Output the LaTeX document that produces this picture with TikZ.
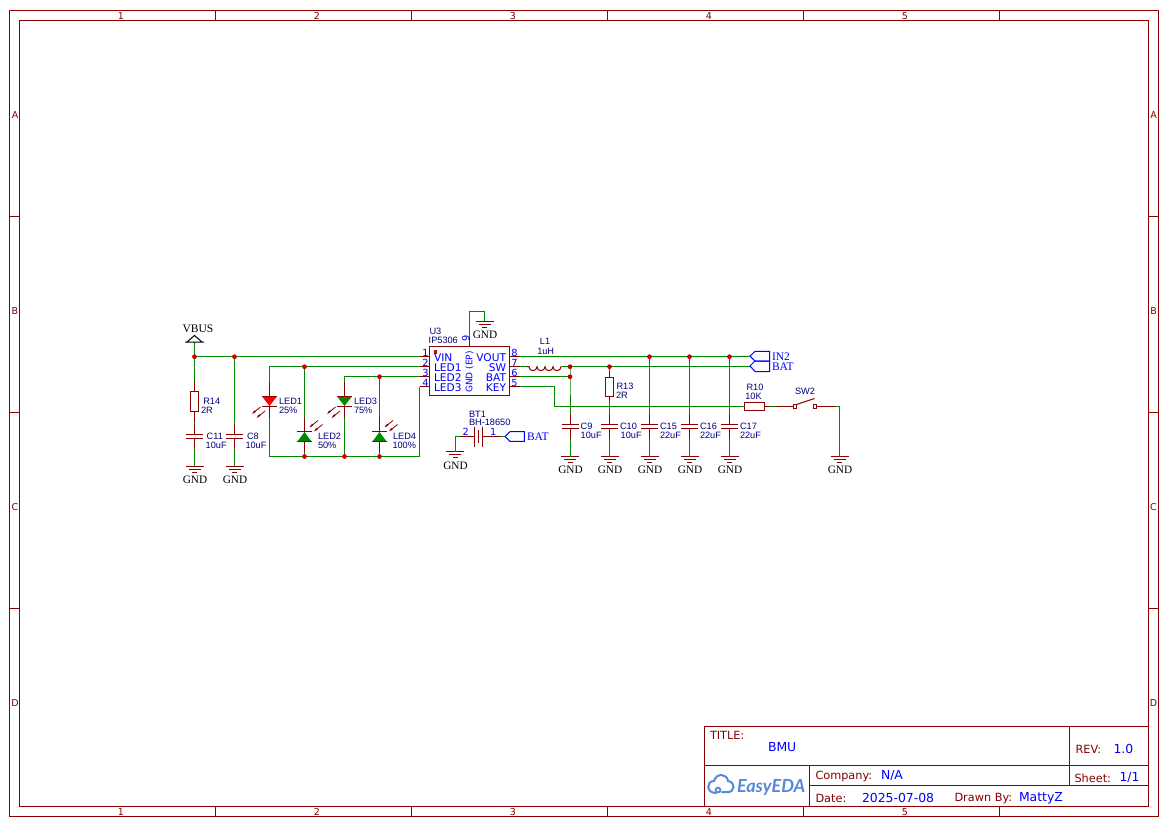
\documentclass[tikz,border=0pt]{standalone}
\usepackage{fontspec}
\setmainfont{Liberation Sans}
\newfontfamily\vfont{DejaVu Sans}
\newfontfamily\sfont{Liberation Serif}
\newfontfamily\lfont{Lato}
\definecolor{fr}{HTML}{880000}
\definecolor{wr}{HTML}{008800}
\definecolor{jn}{HTML}{CC0000}
\definecolor{nv}{HTML}{000080}
\definecolor{bl}{HTML}{0000FF}
\definecolor{lg}{HTML}{5588DD}
\tikzset{
 x=1pt,y=-1pt,
 every node/.style={inner sep=0pt,outer sep=0pt},
 frameline/.style={draw=fr,line width=1pt},
 wire/.style={draw=wr,line width=1pt},
 pinl/.style={draw=fr,line width=1pt},
 blueline/.style={draw=bl,line width=1pt},
 sheet/.style={text=fr,font=\vfont\fontsize{9.5}{10}\selectfont},
 tlab/.style={text=fr,anchor=west,font=\vfont\fontsize{11.3}{12}\selectfont},
 tval/.style={text=bl,anchor=west,font=\vfont\fontsize{12.4}{13}\selectfont},
 des/.style={text=nv,anchor=west,font=\fontsize{9.2}{10}\selectfont},
 pinnum/.style={text=bl,font=\vfont\fontsize{9.8}{10}\selectfont},
 pinname/.style={text=bl,font=\vfont\fontsize{10.6}{11}\selectfont},
 netl/.style={text=black,font=\sfont\fontsize{11.3}{12}\selectfont},
 portl/.style={text=bl,anchor=west,font=\sfont\fontsize{11.5}{12}\selectfont},
 gl/.style={text=lg,anchor=west,font=\lfont\bfseries\itshape\fontsize{18}{18}\selectfont},
}
\newcommand{\junc}[1]{\fill[jn] (#1) circle (2.4pt);}
% ground symbol: x, y of top line, y of text
\newcommand{\gndsym}[3]{%
 \draw[pinl] (#1-9,#2) -- (#1+9,#2);
 \draw[pinl] (#1-6,#2+3.2) -- (#1+6,#2+3.2);
 \draw[pinl] (#1-2.5,#2+6.4) -- (#1+2.5,#2+6.4);
 \node[netl] (gndtxt#1) at (#1+0.5,#3+0.5) {GND};}
% vertical capacitor: name, x, y of top plate
\newcommand{\capsym}[3]{%
 \coordinate (#1t) at (#2,#3-10);
 \coordinate (#1b) at (#2,#3+14.5);
 \draw[pinl] (#2,#3-10) -- (#2,#3) (#2,#3+4.5) -- (#2,#3+14.5);
 \draw[pinl] (#2-8.5,#3) -- (#2+8.5,#3) (#2-8.5,#3+4.5) -- (#2+8.5,#3+4.5);}
% small light arrows
\newcommand{\ledarrow}[2]{%
 \draw[fr,line width=0.8pt] (#1,#2) -- (#1+8,#2-6.5);
 \draw[fr,line width=1.6pt] (#1+1,#2-1) -- (#1+3,#2-2.6);}
\begin{document}
\begin{tikzpicture}
\useasboundingbox (0,0) rectangle (1169,827);
\fill[white] (0,0) rectangle (1169,827);
% sheet frame
\draw[frameline] (9.5,10.5) rectangle (1158.5,816.5);
\draw[frameline] (19.5,20.5) rectangle (1148.5,806.5);
\foreach \x in {215.5,411.5,607.5,803.5,999.5}{
 \draw[frameline] (\x,10.5) -- (\x,20.5);
 \draw[frameline] (\x,806.5) -- (\x,816.5);}
\foreach \y in {216.5,412.5,608.5}{
 \draw[frameline] (9.5,\y) -- (19.5,\y);
 \draw[frameline] (1148.5,\y) -- (1158.5,\y);}
\foreach \t/\x in {1/121,2/317,3/513,4/709,5/905}{
 \node[sheet] (ct\t) at (\x,15.7) {\t};
 \node[sheet] (cb\t) at (\x,811.7) {\t};}
\foreach \t/\y in {A/115.5,B/311.5,C/507.5,D/703.5}{
 \node[sheet] (rl\t) at (15,\y) {\t};
 \node[sheet] (rr\t) at (1153.5,\y) {\t};}
% title block
\draw[frameline] (704.5,806.5) -- (704.5,726.5) -- (1148.5,726.5);
\draw[frameline] (704.5,765.5) -- (1148.5,765.5);
\draw[frameline] (809.5,785.5) -- (1148.5,785.5);
\draw[frameline] (809.5,765.5) -- (809.5,806.5);
\draw[frameline] (1069.5,726.5) -- (1069.5,785.5);
\node[tlab] (ttitle) at (710,735.8) {TITLE:};
\node[tval] (tbmu) at (768,747.5) {BMU};
\node[tlab] (trev) at (1075.5,749.3) {REV:};
\node[tval] (trevv) at (1113.5,749) {1.0};
\node[tlab] (tsheet) at (1074.5,778.3) {Sheet:};
\node[tval] (tsheetv) at (1119.5,778) {1/1};
\node[tlab] (tcomp) at (815.5,776) {Company:};
\node[tval] (tcompv) at (881,776) {N/A};
\node[tlab] (tdate) at (815.5,798.3) {Date:};
\node[tval] (tdatev) at (862,798) {2025-07-08};
\node[tlab] (tdrawn) at (954.5,798.3) {Drawn By:};
\node[tval] (tdrawnv) at (1019,798) {MattyZ};
\node[gl] (tlogo) at (737,787) {EasyEDA};
\draw[lg,line width=2pt,line cap=round] (716,793) .. controls (706,793) and (706,781) .. (714,781)
  .. controls (716,773) and (727,773) .. (728,781) .. controls (736,782) and (735,793) .. (727,792) -- (722,792);
\draw[lg,line width=1.8pt] (718,790) circle (2.4pt);
% coordinates
\coordinate (vb) at (194.5,356.7);
\coordinate (c8j) at (234.5,356.7);
\coordinate (p1) at (419.5,356.7);
\coordinate (p2) at (419.5,366.7);
\coordinate (p3) at (419.5,376.7);
\coordinate (p4) at (419.5,386.7);
\coordinate (p1i) at (429.5,356.7);
\coordinate (p2i) at (429.5,366.7);
\coordinate (p3i) at (429.5,376.7);
\coordinate (p4i) at (429.5,386.7);
\coordinate (p8i) at (509.5,356.7);
\coordinate (p7i) at (509.5,366.7);
\coordinate (p6i) at (509.5,376.7);
\coordinate (p5i) at (509.5,386.7);
\coordinate (p8) at (519.5,356.7);
\coordinate (p7) at (519.5,366.7);
\coordinate (p6) at (519.5,376.7);
\coordinate (p5) at (519.5,386.7);
\coordinate (l2j) at (304.5,366.7);
\coordinate (l4j) at (379.5,376.7);
\coordinate (bl2) at (304.5,456.5);
\coordinate (bl3) at (344.5,456.5);
\coordinate (bl4) at (379.5,456.5);
\coordinate (c9j) at (570,366.7);
\coordinate (c9k) at (570,376.7);
\coordinate (r13j) at (609.5,366.7);
\coordinate (c15j) at (649.5,356.7);
\coordinate (c16j) at (689.5,356.7);
\coordinate (c17j) at (729.5,356.7);
\coordinate (in2) at (750,356.2);
\coordinate (batp) at (750,366.7);
\coordinate (r10a) at (744,406.5);
\coordinate (r10b) at (764.5,406.5);
% caps
\capsym{c11}{194.5}{434}
\capsym{c8}{234.5}{434}
\capsym{c9}{570}{424}
\capsym{c10}{609.5}{424}
\capsym{c15}{649.5}{424}
\capsym{c16}{689.5}{424}
\capsym{c17}{729.5}{424}
% ground symbols
\gndsym{194.5}{466}{479}
\gndsym{234.5}{466}{479}
\gndsym{570}{456.5}{469}
\gndsym{609.5}{456.5}{469}
\gndsym{649.5}{456.5}{469}
\gndsym{689.5}{456.5}{469}
\gndsym{729.5}{456.5}{469}
\gndsym{839.5}{456.5}{469}
\gndsym{455}{451.5}{465}
\gndsym{484.5}{321}{334}
% wires
\draw[wire] (vb) -- (p1);
\draw[wire] (l2j) -- (p2) (269.5,381.7) -- (269.5,366.7) -- (l2j);
\draw[wire] (l4j) -- (p3) (344.5,381.7) -- (344.5,376.7) -- (l4j);
\draw[wire] (269.5,418) -- (269.5,456.5) -- (bl2) -- (bl3) -- (bl4) -- (419.5,456.5) -- (419.5,386.7) -- (p4);
\draw[wire] (l2j) -- (304.5,417);
\draw[wire] (bl2) -- (304.5,451.5);
\draw[wire] (344.5,418) -- (bl3);
\draw[wire] (l4j) -- (379.5,417);
\draw[wire] (bl4) -- (379.5,451.5);
\draw[wire] (194.5,342) -- (vb) -- (194.5,381);
\draw[wire] (194.5,421.5) -- (c11t);
\draw[wire] (c11b) -- (194.5,466);
\draw[wire] (c8j) -- (c8t);
\draw[wire] (c8b) -- (234.5,466);
\draw[wire] (p8) -- (c15j) -- (c16j) -- (c17j) -- (in2);
\draw[wire] (p7) -- (526.5,366.7);
\draw[wire] (561.5,366.7) -- (c9j) -- (r13j) -- (batp);
\draw[wire] (p6) -- (c9k);
\draw[wire] (c9j) -- (c9k) -- (c9t);
\draw[wire] (c9b) -- (570,456.5);
\draw[wire] (r13j) -- (609.5,372);
\draw[wire] (609.5,400) -- (c10t);
\draw[wire] (c10b) -- (609.5,456.5);
\draw[wire] (c15j) -- (c15t) (c15b) -- (649.5,456.5);
\draw[wire] (c16j) -- (c16t) (c16b) -- (689.5,456.5);
\draw[wire] (c17j) -- (c17t) (c17b) -- (729.5,456.5);
\draw[wire] (p5) -- (554.5,386.7) -- (554.5,406.5) -- (r10a);
\draw[wire] (770,406.5) -- (775,406.5);
\draw[wire] (835,406.5) -- (839.5,406.5) -- (839.5,456.5);
\draw[wire] (469.5,336.7) -- (469.5,311) -- (484.5,311) -- (484.5,321);
\draw[wire] (461,436.7) -- (455,436.7) -- (455,451.5);
\draw[wire] (501,436.7) -- (505,436.7);
% junctions
\foreach \j in {vb,c8j,l2j,l4j,bl2,bl3,bl4,c9j,c9k,r13j,c15j,c16j,c17j}{\junc{\j}}
% VBUS
\draw[pinl,draw=black] (185,342) -- (204,342) (187,342) -- (194.5,335.5) -- (202,342);
\node[netl,font=\sfont\fontsize{11.5}{12}\selectfont] (vbus) at (198,328.5) {VBUS};
% resistors
\draw[pinl] (194.5,381) -- (194.5,391) (194.5,411.5) -- (194.5,421.5);
\draw[pinl] (190.3,391) rectangle (198.7,411.5);
\node[des] (r14a) at (203.3,401.5) {R14};
\node[des] (r14b) at (201,410.3) {2R};
\draw[pinl] (609.5,372) -- (609.5,377) (609.5,396) -- (609.5,400);
\draw[pinl] (605.3,377) rectangle (613.7,396);
\node[des] (r13a) at (616.5,386) {R13};
\node[des] (r13b) at (616,395) {2R};
\draw[pinl] (r10b) -- (770,406.5);
\draw[pinl] (744,402.3) rectangle (764.5,410.7);
\node[des,anchor=center] (r10t) at (755,387) {R10};
\node[des,anchor=center] (r10v) at (753.5,396.5) {10K};
% switch
\draw[pinl] (775,406.5) -- (793.5,406.5) (816.5,406.5) -- (835,406.5);
\draw[pinl,line width=0.8pt,fill=white] (793.5,404.8) rectangle (796.5,408);
\draw[pinl,line width=0.8pt,fill=white] (813.5,404.8) rectangle (816.5,408);
\draw[pinl] (796.5,404.5) -- (814.5,398.5);
\node[des,anchor=center] (sw2) at (805,391.8) {SW2};
% cap labels
\node[des] (c11a) at (206.7,436.7) {C11};
\node[des] (c11v) at (205.7,445) {10uF};
\node[des] (c8a) at (247,436.7) {C8};
\node[des] (c8v) at (245.5,445) {10uF};
\node[des] (c9a) at (580.7,426.5) {C9};
\node[des] (c9v) at (580.7,435.5) {10uF};
\node[des] (c10a) at (620,426.5) {C10};
\node[des] (c10v) at (620.7,435.5) {10uF};
\node[des] (c15a) at (660,426.5) {C15};
\node[des] (c15v) at (660,435.5) {22uF};
\node[des] (c16a) at (700,426.5) {C16};
\node[des] (c16v) at (700,435.5) {22uF};
\node[des] (c17a) at (740,426.5) {C17};
\node[des] (c17v) at (740,435.5) {22uF};
% LEDs
\foreach \x/\c in {269.5/red,344.5/wr}{
 \draw[pinl] (\x,381.7) -- (\x,418);
 \fill[\c] (\x-7.5,396.3) -- (\x+7.5,396.3) -- (\x,406) -- cycle;
 \draw[pinl] (\x-7.5,396) -- (\x+7.5,396);
 \draw[pinl] (\x-7.5,406.3) -- (\x+7.5,406.3);
 \ledarrow{\x-17}{413.5}
 \ledarrow{\x-12.5}{417.5}}
\foreach \x in {304.5,379.5}{
 \draw[pinl] (\x,417) -- (\x,451.5);
 \fill[wr] (\x-7,441.5) -- (\x+7,441.5) -- (\x,432) -- cycle;
 \draw[pinl] (\x-7.5,431.7) -- (\x+7.5,431.7);
 \draw[pinl] (\x-7.5,441.7) -- (\x+7.5,441.7);
 \ledarrow{\x+5.5}{427}
 \ledarrow{\x+10}{431}}
\node[des] (led1) at (279,401.5) {LED1};
\node[des] (led1v) at (279,410.3) {25\%};
\node[des] (led2) at (318,436.7) {LED2};
\node[des] (led2v) at (318,445) {50\%};
\node[des] (led3) at (354,401.5) {LED3};
\node[des] (led3v) at (354,410.3) {75\%};
\node[des] (led4) at (393,436.7) {LED4};
\node[des] (led4v) at (392.5,445) {100\%};
% IC
\draw[pinl] (429.5,346.7) rectangle (509.5,395.7);
\fill[jn] (433.5,350) rectangle (437,353.5);
\draw[pinl] (p1) -- (p1i) (p2) -- (p2i) (p3) -- (p3i) (p4) -- (p4i);
\draw[pinl] (p8) -- (p8i) (p7) -- (p7i) (p6) -- (p6i) (p5) -- (p5i);
\draw[pinl] (469.5,346.7) -- (469.5,336.7);
\node[des] (u3) at (429.5,331.7) {U3};
\node[des] (u3v) at (428.7,340) {IP5306};
\foreach \n/\y in {1/352.7,2/362.7,3/372.7,4/382.7}{\node[pinnum] (pn\n) at (425.5,\y) {\n};}
\foreach \n/\y in {8/352.7,7/362.7,6/372.7,5/382.7}{\node[pinnum] (pn\n) at (514.5,\y) {\n};}
\node[pinnum,rotate=90] (pn9) at (465.7,338) {9};
\node[pinname,anchor=west] (pvin) at (434,357.2) {VIN};
\node[pinname,anchor=west] (pl1) at (434,367.2) {LED1};
\node[pinname,anchor=west] (pl2) at (434,377.2) {LED2};
\node[pinname,anchor=west] (pl3) at (434,387.2) {LED3};
\node[pinname,anchor=east] (pvout) at (506,357.2) {VOUT};
\node[pinname,anchor=east] (psw) at (506,367.2) {SW};
\node[pinname,anchor=east] (pbat) at (506,377.2) {BAT};
\node[pinname,anchor=east] (pkey) at (506,387.2) {KEY};
\node[pinname,rotate=90,font=\vfont\fontsize{9}{10}\selectfont] (pgnd) at (469.5,372) {GND (EP)};
% inductor
\draw[pinl] (526.5,366.7) -- (529,366.7)
  arc[start angle=180,end angle=0,radius=4] arc[start angle=180,end angle=0,radius=4]
  arc[start angle=180,end angle=0,radius=4] arc[start angle=180,end angle=0,radius=4] -- (561.5,366.7);
\node[des,anchor=center] (l1) at (545,341.7) {L1};
\node[des,anchor=center] (l1v) at (545.7,351.7) {1uH};
% battery
\draw[pinl] (461,436.7) -- (474.3,436.7) (482.7,436.7) -- (501,436.7);
\draw[pinl] (474.3,426.7) -- (474.3,446.7);
\draw[pinl] (478.5,430) -- (478.5,443);
\draw[pinl] (482.7,426.7) -- (482.7,446.7);
\node[des] (bt1) at (469,414) {BT1};
\node[des] (bt1v) at (469,422) {BH-18650};
\node[pinnum] (bp2) at (465.7,432) {2};
\node[pinnum] (bp1) at (493.3,432) {1};
% ports
\draw[blueline] (505,436.5) -- (510,431.7) -- (524.3,431.7) -- (524.3,441.3) -- (510,441.3) -- cycle;
\node[portl] (pbat2) at (527,436.5) {BAT};
\draw[blueline] (750,356.2) -- (755,351.3) -- (769.5,351.3) -- (769.5,361) -- (755,361) -- cycle;
\draw[blueline] (750,366) -- (755,361) -- (769.5,361) -- (769.5,371.5) -- (755,371.5) -- cycle;
\node[portl] (pin2) at (772,356.2) {IN2};
\node[portl] (pbat3) at (772,366.7) {BAT};
\end{tikzpicture}
\end{document}
